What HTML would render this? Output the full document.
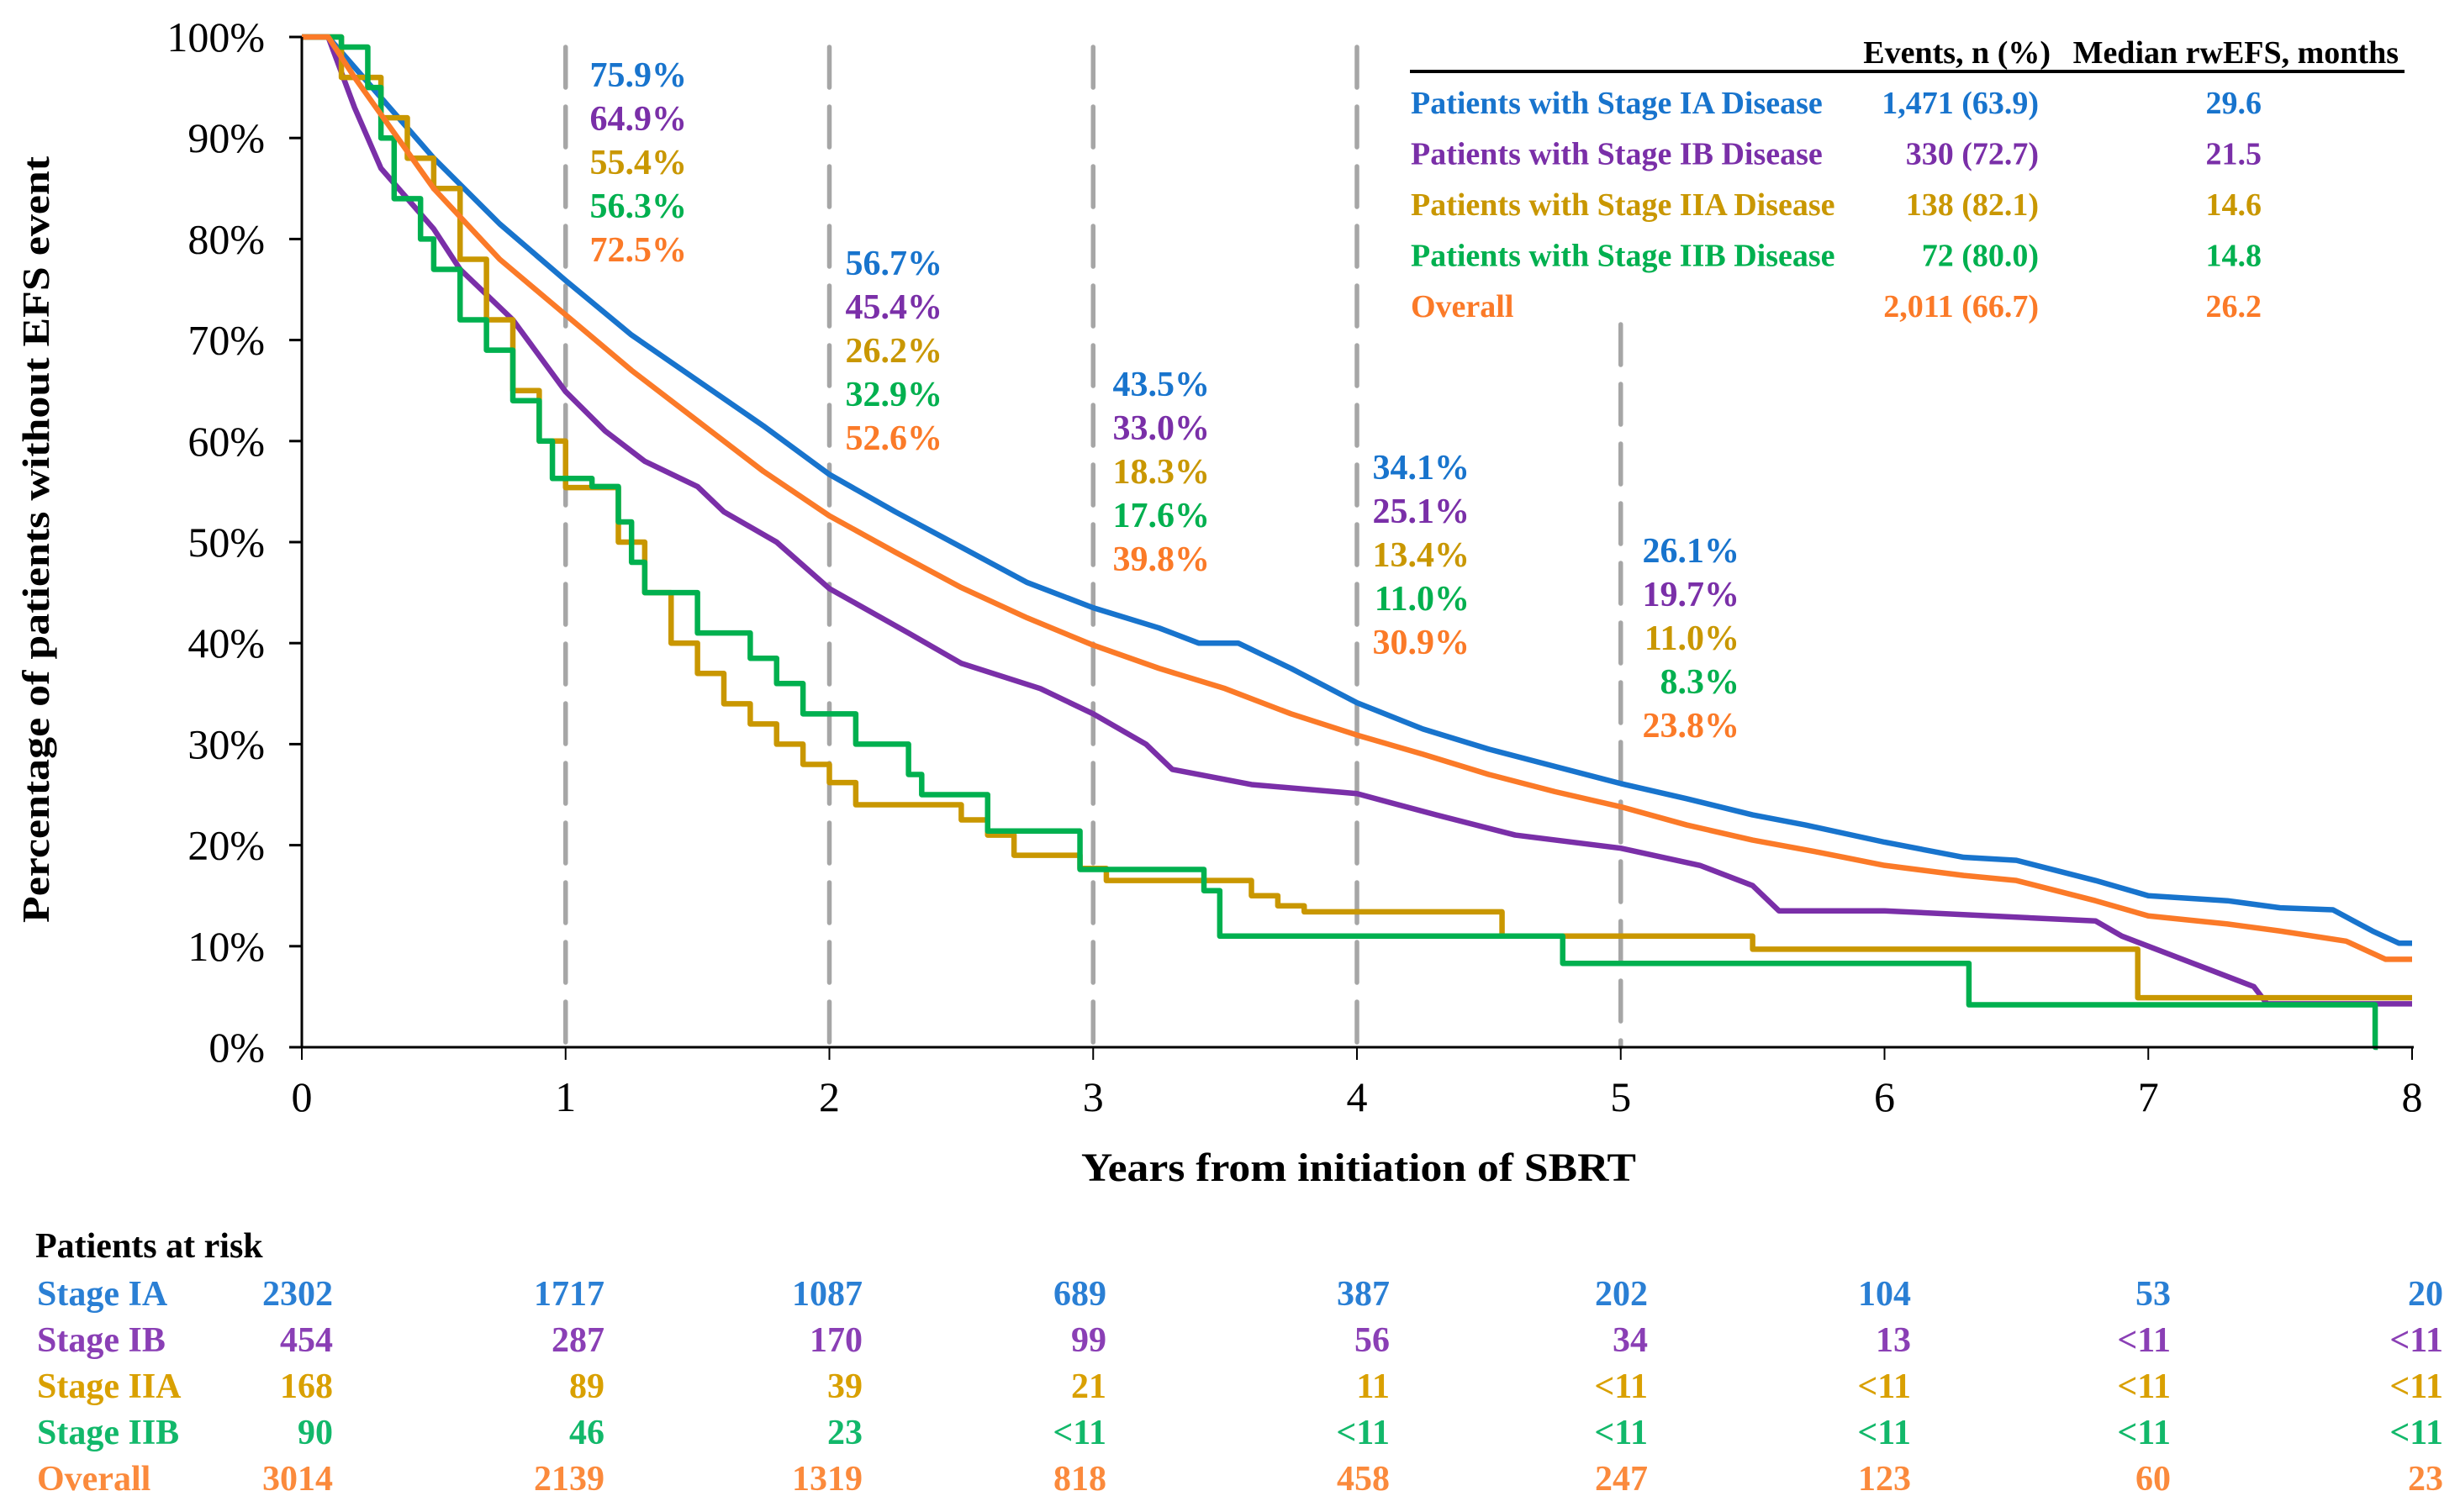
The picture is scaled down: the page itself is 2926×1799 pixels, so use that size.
<!DOCTYPE html>
<html><head><meta charset="utf-8"><style>
html,body{margin:0;padding:0;background:#fff;}
svg{display:block;font-family:"Liberation Serif",serif;}
</style></head><body>
<svg id="chart" width="2926" height="1799" viewBox="0 0 2926 1799" xmlns="http://www.w3.org/2000/svg">
<g id="grid"></g>
<g id="series"></g>
<g id="axes"></g>
<g id="annot"></g>
<g id="legend"></g>
<g id="risk"></g>
</svg>
<script>
const NS="http://www.w3.org/2000/svg";
const seriesNames=["Stage IA","Stage IB","Stage IIA","Stage IIB","Overall"];
const seriesColors=["#1874cd","#7a2fa8","#c99700","#00b04f","#fb7a28"];
const riskColors=["#2a7fd4","#8a3fb5","#d9a000","#12b86a","#fb8a3c"];
const ia=[[0,100],[0.1,100],[0.2,97],[0.5,88],[0.75,81.5],[1,75.9],[1.25,70.5],[1.5,66],[1.75,61.5],[2,56.7],[2.25,53],[2.5,49.5],[2.75,46],[3,43.5],[3.25,41.5],[3.4,40],[3.55,40],[3.75,37.5],[4,34.1],[4.25,31.5],[4.5,29.5],[4.75,27.8],[5,26.1],[5.25,24.6],[5.5,23],[5.7,22],[6,20.3],[6.3,18.8],[6.5,18.5],[6.8,16.5],[7,15],[7.3,14.5],[7.5,13.8],[7.7,13.6],[7.85,11.5],[7.95,10.3],[8,10.3]];
const ib=[[0,100],[0.1,100],[0.2,93],[0.3,87],[0.4,84],[0.5,81],[0.6,77],[0.8,72],[1,64.9],[1.15,61],[1.3,58],[1.5,55.5],[1.6,53],[1.8,50],[2,45.4],[2.3,41],[2.5,38],[2.8,35.5],[3,33],[3.2,30],[3.3,27.5],[3.6,26],[4,25.1],[4.3,23],[4.6,21],[5,19.7],[5.3,18],[5.5,16],[5.6,13.5],[6,13.5],[6.8,12.5],[6.9,11],[7,10],[7.2,8],[7.4,6],[7.45,4.3],[8,4.3]];
const iia=[[0,100],[0.15,96],[0.3,92],[0.4,88],[0.5,85],[0.6,78],[0.7,72],[0.8,65],[0.9,60],[1,55.4],[1.2,50],[1.3,45],[1.4,40],[1.5,37],[1.6,34],[1.7,32],[1.8,30],[1.9,28],[2,26.2],[2.1,24],[2.5,22.5],[2.6,21],[2.7,19],[2.95,17.7],[3.05,16.5],[3.6,15],[3.7,14],[3.8,13.4],[4.55,11],[5.5,9.7],[6.96,4.9],[8,4.9]];
const iib=[[0,100],[0.15,99],[0.25,95],[0.3,90],[0.35,84],[0.45,80],[0.5,77],[0.6,72],[0.7,69],[0.8,64],[0.9,60],[0.95,56.3],[1.1,55.5],[1.2,52],[1.25,48],[1.3,45],[1.5,41],[1.7,38.5],[1.8,36],[1.9,33],[2.1,30],[2.3,27],[2.35,25],[2.6,21.4],[2.95,17.6],[3.42,15.5],[3.48,11],[4.78,8.3],[6.32,4.2],[7.86,0],[7.87,0]];
const overall=[[0,100],[0.1,100],[0.2,96],[0.5,85],[0.75,78],[1,72.5],[1.25,67],[1.5,62],[1.75,57],[2,52.6],[2.25,49],[2.5,45.5],[2.75,42.5],[3,39.8],[3.25,37.5],[3.5,35.5],[3.75,33],[4,30.9],[4.25,29],[4.5,27],[4.75,25.3],[5,23.8],[5.25,22],[5.5,20.5],[5.75,19.3],[6,18],[6.3,17],[6.5,16.5],[6.8,14.5],[7,13],[7.3,12.2],[7.5,11.5],[7.75,10.5],[7.9,8.7],[8,8.7]];
const seriesData=[ia,ib,iia,iib,overall];
const stepped=[false,false,true,true,false];
const xTicks=[0,1,2,3,4,5,6,7,8];
const yTicks=[0,10,20,30,40,50,60,70,80,90,100];
const landmarkYears=[1,2,3,4,5];
const landmarkValues=[["75.9%","64.9%","55.4%","56.3%","72.5%"],["56.7%","45.4%","26.2%","32.9%","52.6%"],["43.5%","33.0%","18.3%","17.6%","39.8%"],["34.1%","25.1%","13.4%","11.0%","30.9%"],["26.1%","19.7%","11.0%","8.3%","23.8%"]];
const legendLabels=["Patients with Stage IA Disease","Patients with Stage IB Disease","Patients with Stage IIA Disease","Patients with Stage IIB Disease","Overall"];
const legendEvents=["1,471 (63.9)","330 (72.7)","138 (82.1)","72 (80.0)","2,011 (66.7)"];
const legendMedian=["29.6","21.5","14.6","14.8","26.2"];
const riskIA=["2302","1717","1087","689","387","202","104","53","20"];
const riskIB=["454","287","170","99","56","34","13","<11","<11"];
const riskIIA=["168","89","39","21","11","<11","<11","<11","<11"];
const riskIIB=["90","46","23","<11","<11","<11","<11","<11","<11"];
const riskOverall=["3014","2139","1319","818","458","247","123","60","23"];
const riskRows=[riskIA,riskIB,riskIIA,riskIIB,riskOverall];

const X0=359,XW=313.75,Y0=1246,YH=12.02;
const xs=t=>X0+t*XW, ys=v=>Y0-v*YH;
function mk(tag,attrs,parent,txt){const e=document.createElementNS(NS,tag);for(const k in attrs)e.setAttribute(k,attrs[k]);if(txt!==undefined)e.textContent=txt;parent.appendChild(e);return e;}
const G=id=>document.getElementById(id);

landmarkYears.forEach(t=>{
  const top=t===5?386:56;
  const l=mk("line",{x1:xs(t),x2:xs(t),y1:top,y2:Y0,stroke:"#a6a6a6","stroke-width":5.5,"stroke-dasharray":"48 23","stroke-linecap":"round"},G("grid"));
  
  
});

seriesData.forEach((d,i)=>{
  let p="M"+xs(d[0][0])+","+ys(d[0][1]);
  for(let k=1;k<d.length;k++){
    if(stepped[i]) p+=" H"+xs(d[k][0])+" V"+ys(d[k][1]);
    else p+=" L"+xs(d[k][0])+","+ys(d[k][1]);
  }
  const e=mk("path",{d:p,fill:"none",stroke:seriesColors[i],"stroke-width":6.5,"stroke-linejoin":"round"},G("series"));
  
  
});

const ax=G("axes");
mk("line",{x1:X0,x2:X0,y1:ys(100),y2:Y0,stroke:"#000","stroke-width":3},ax);
mk("line",{x1:X0-14,x2:xs(8)+2,y1:Y0,y2:Y0,stroke:"#000","stroke-width":3},ax);
yTicks.forEach(v=>{
  mk("line",{x1:X0-15,x2:X0,y1:ys(v),y2:ys(v),stroke:"#000","stroke-width":3},ax);
  const t=mk("text",{x:315,y:ys(v)+17,"text-anchor":"end","font-size":50},ax,v+"%");
  
  
});
xTicks.forEach(v=>{
  mk("line",{x1:xs(v),x2:xs(v),y1:Y0,y2:Y0+15,stroke:"#000","stroke-width":2},ax);
  const t=mk("text",{x:xs(v),y:1322,"text-anchor":"middle","font-size":50},ax,String(v));
  
  
});
const xt=mk("text",{x:1616,y:1405,"text-anchor":"middle","font-size":48,"font-weight":"bold",textLength:660,lengthAdjust:"spacingAndGlyphs"},ax,"Years from initiation of SBRT");


const yt=mk("text",{x:0,y:0,"text-anchor":"middle","font-size":46,"font-weight":"bold",textLength:912,lengthAdjust:"spacingAndGlyphs",transform:"translate(58,642) rotate(-90)"},ax,"Percentage of patients without EFS event");



const rightEdges=[817,1121,1439,1748,2069];
const firstBase=[103,327,471,570,669];
landmarkValues.forEach((vals,g)=>{
  vals.forEach((s,r)=>{
    const t=mk("text",{x:rightEdges[g],y:firstBase[g]+r*52,"text-anchor":"end","font-size":42,"font-weight":"bold",fill:seriesColors[r]},G("annot"),s);
    
    
  });
});

const lg=G("legend");
const h1=mk("text",{x:2439,y:75,"text-anchor":"end","font-size":38,"font-weight":"bold"},lg,"Events, n (%)");


const h2=mk("text",{x:2853,y:75,"text-anchor":"end","font-size":38,"font-weight":"bold"},lg,"Median rwEFS, months");


mk("line",{x1:1677,x2:2860,y1:85,y2:85,stroke:"#000","stroke-width":4},lg);
legendLabels.forEach((s,i)=>{
  const y=135+i*60.5;
  const a=mk("text",{x:1678,y:y,"font-size":38,"font-weight":"bold",fill:seriesColors[i]},lg,s);
  
  
  const b=mk("text",{x:2425,y:y,"text-anchor":"end","font-size":38,"font-weight":"bold",fill:seriesColors[i]},lg,legendEvents[i]);
  
  
  const c=mk("text",{x:2690,y:y,"text-anchor":"end","font-size":38,"font-weight":"bold",fill:seriesColors[i]},lg,legendMedian[i]);
  
  
});

const rk=G("risk");
const rt=mk("text",{x:42,y:1496,"font-size":42,"font-weight":"bold"},rk,"Patients at risk");


const colRight=[396,719,1026,1316,1653,1960,2273,2582,2906];
riskRows.forEach((row,i)=>{
  const y=1553+i*55;
  const l=mk("text",{x:44,y:y,"font-size":42,"font-weight":"bold",fill:riskColors[i]},rk,seriesNames[i]);
  
  
  row.forEach((v,j)=>{
    const t=mk("text",{x:colRight[j],y:y,"text-anchor":"end","font-size":42,"font-weight":"bold",fill:riskColors[i]},rk,v);
    
    
  });
});
</script>
</body></html>
